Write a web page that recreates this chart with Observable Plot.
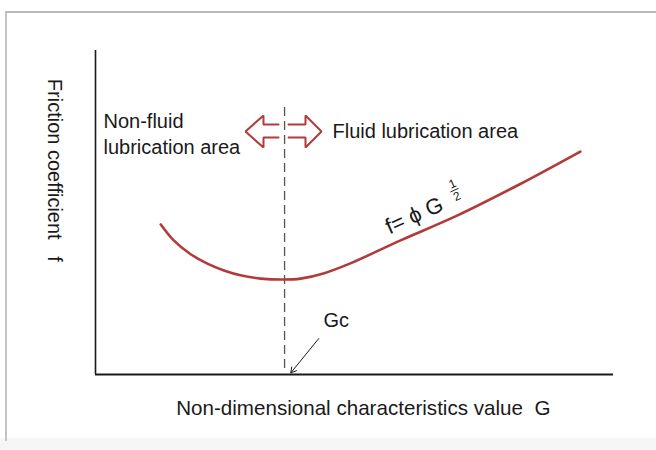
<!DOCTYPE html>
<html>
<head>
<meta charset="utf-8">
<script src="https://cdn.jsdelivr.net/npm/d3@7"></script>
<script src="https://cdn.jsdelivr.net/npm/@observablehq/plot@0.6"></script>
<style>
  html, body { margin: 0; padding: 0; background: #fff; }
  #wrap { position: relative; width: 656px; height: 450px; overflow: hidden; }
  #frame { position: absolute; left: 5px; top: 11px; width: 660px; height: 428px;
           border-top: 2px solid #b8b8b8; border-left: 2px solid #c4c4c4; pointer-events: none; }
  #band { position: absolute; left: 0; top: 438px; width: 656px; height: 12px; background: #f6f6f6; }
  svg text { font-family: "Liberation Sans", Arial, sans-serif; }
</style>
</head>
<body>
<div id="wrap"><div id="band"></div><div id="chart"></div><div id="frame"></div></div>
<script>
// Curve f(G): friction coefficient vs non-dimensional characteristic value (relative units)
const curveG = [12.6, 15.1, 18.3, 21.6, 24.8, 28.0, 31.9, 36.3, 39.6, 44.0, 49.2, 58.9, 69.9, 82.0, 93.6];
const curveF = [46.3, 41.4, 37.2, 34.2, 32.1, 30.6, 29.6, 29.3, 29.6, 31.2, 34.3, 41.4, 49.1, 58.8, 68.8];

// Critical value Gc (dashed divider)
const gc = 36.5;
const gcTop = 83.6;
const gcBottom = 1.85;

// Hollow double arrow outline (two halves)
const arrowLeftG  = [35.33, 32.43, 32.43, 28.96, 32.43, 32.43, 35.33];
const arrowRightG = [37.26, 40.54, 40.54, 43.63, 40.54, 40.54, 37.26];
const arrowF      = [77.16, 77.16, 79.94, 75.0, 70.06, 73.15, 73.15];

// Text labels
const labelText = ["Non-fluid", "lubrication area", "Fluid lubrication area", "Gc"];
const labelG    = [1.54, 1.54, 45.75, 44.0];
const labelF    = [76.2, 68.2, 73.1, 14.8];

const formulaText = "f= \u03d5 G";
const fracTop = "1";
const fracBottom = "2";

const xTitle = "Non-dimensional characteristics value\u00a0\u00a0G";
const yTitle = "Friction coefficient\u00a0\u00a0\u00a0f";

const red = "#b23a3a";

const curve = curveG.map((g, i) => ({g, f: curveF[i]}));
const arrowPts = [
  ...arrowLeftG.map((g, i) => ({g, f: arrowF[i], side: "L"})),
  ...arrowRightG.map((g, i) => ({g, f: arrowF[i], side: "R"}))
];
const labels = labelText.map((t, i) => ({t, g: labelG[i], f: labelF[i]}));

const chart = Plot.plot({
  width: 656,
  height: 450,
  marginLeft: 95,
  marginRight: 43,
  marginTop: 50,
  marginBottom: 76,
  x: {domain: [0, 100], axis: null},
  y: {domain: [0, 100], axis: null},
  style: {background: "transparent", fontFamily: "Liberation Sans, Arial, sans-serif"},
  marks: [
    // axes lines
    Plot.ruleX([0], {y1: 0, y2: 100, stroke: "#1a1a1a", strokeWidth: 1.6}),
    Plot.ruleY([0], {x1: 0, x2: 100, stroke: "#1a1a1a", strokeWidth: 1.8}),
    // dashed Gc divider
    Plot.ruleX([gc], {y1: gcBottom, y2: gcTop, stroke: "#555", strokeWidth: 1.3, strokeDasharray: "9,5"}),
    // friction curve
    Plot.line(curve, {x: "g", y: "f", stroke: red, strokeWidth: 2.6, curve: "catmull-rom"}),
    // hollow double arrow
    Plot.line(arrowPts, {x: "g", y: "f", z: "side", stroke: red, strokeWidth: 2, strokeLinejoin: "miter"}),
    // labels
    Plot.text(labels, {x: "g", y: "f", text: "t", textAnchor: "start", lineAnchor: "bottom", fontSize: 20, fill: "#1a1a1a"}),
    // Gc pointer arrow
    Plot.arrow([{x1: 43.1, y1: 11.1, x2: 37.7, y2: 0.5}], {x1: "x1", y1: "y1", x2: "x2", y2: "y2", stroke: "#1a1a1a", strokeWidth: 1, headLength: 9, bend: 0}),
    // formula along the curve
    Plot.text([{g: 56.75, f: 43.2}], {x: "g", y: "f", text: () => formulaText, rotate: -24, textAnchor: "start", lineAnchor: "bottom", fontSize: 22, fill: "#1a1a1a"}),
    Plot.text([{g: 68.9, f: 58.8}], {x: "g", y: "f", text: () => fracTop, rotate: -24, textAnchor: "middle", lineAnchor: "middle", fontSize: 12, fill: "#1a1a1a"}),
    Plot.text([{g: 69.8, f: 55.0}], {x: "g", y: "f", text: () => fracBottom, rotate: -24, textAnchor: "middle", lineAnchor: "middle", fontSize: 12, fill: "#1a1a1a"}),
    Plot.line([{g: 68.6, f: 56.4}, {g: 70.0, f: 57.4}], {x: "g", y: "f", stroke: "#1a1a1a", strokeWidth: 1}),
    // axis titles
    Plot.text([{g: 51.7, f: -12.65}], {x: "g", y: "f", text: () => xTitle, textAnchor: "middle", lineAnchor: "bottom", fontSize: 20.6, fill: "#1a1a1a"}),
    Plot.text([{g: -8.0, f: 63.0}], {x: "g", y: "f", text: () => yTitle, rotate: 90, textAnchor: "middle", lineAnchor: "middle", fontSize: 20, fill: "#1a1a1a"})
  ]
});
document.getElementById("chart").appendChild(chart);
</script>
</body>
</html>
